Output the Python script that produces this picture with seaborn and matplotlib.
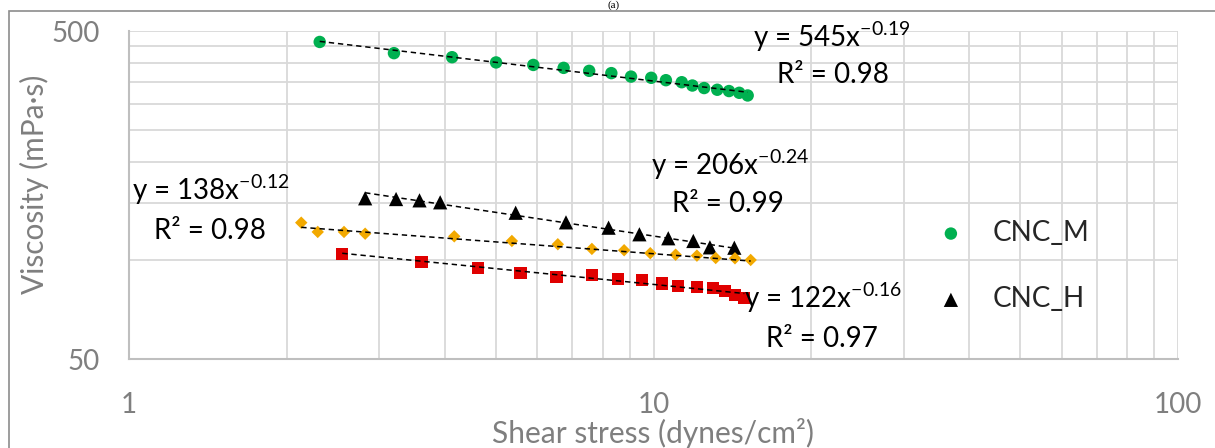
import numpy as np
import pandas as pd
import seaborn as sns
import matplotlib
matplotlib.use("Agg")
import matplotlib.pyplot as plt
from matplotlib.ticker import FixedLocator, NullFormatter, LogLocator
from matplotlib.patches import Rectangle

# ---------------- data ----------------
m_x = [2.31, 3.20, 4.13, 5.01, 5.90, 6.74, 7.54, 8.31, 9.06, 9.90,
       10.56, 11.32, 11.86, 12.49, 13.23, 13.93, 14.57, 15.12]
m_y = [463, 428, 416, 401, 394, 386, 378, 372, 363, 360,
       354, 349, 341, 335, 331, 328, 324, 318]

h_x = [2.82, 3.23, 3.58, 3.92, 5.46, 6.81, 8.21, 9.40, 10.67, 11.91, 12.81, 14.26]
h_y = [154.5, 153.7, 152.3, 150.2, 139.6, 130.5, 125.7, 120.0, 116.7, 114.5, 109.5, 109.2]

o_x = [2.13, 2.29, 2.57, 2.82, 4.17, 5.37, 6.57, 7.63, 8.79, 9.86,
       11.02, 12.10, 13.14, 14.30, 15.32]
o_y = [130.2, 122.0, 122.0, 120.5, 118.3, 114.5, 111.9, 108.3, 107.3, 105.1,
       104.0, 103.3, 101.6, 101.4, 100.2]

r_x = [2.55, 3.61, 4.63, 5.58, 6.53, 7.64, 8.56, 9.52, 10.37, 11.15,
       12.10, 13.00, 13.69, 14.30, 14.90]
r_y = [104.5, 98.6, 94.9, 91.3, 89.1, 90.0, 87.7, 86.9, 84.9, 83.3,
       82.9, 82.1, 80.6, 78.4, 76.6]

# power-law fits y = a * x^b shown on the chart
fit_a = [545, 206, 138, 122]
fit_b = [-0.19, -0.24, -0.12, -0.16]
fit_r2 = ["0.98", "0.99", "0.98", "0.97"]

legend_names = ["CNC_M", "CNC_H"]
x_ticks = [1, 10, 100]
y_ticks = [50, 500]
y_minor = [100, 150, 200, 250, 300, 350, 400, 450]

# ---------------- figure ----------------
W, H = 1215, 448
sns.set_theme(style="white")
plt.rcParams["font.family"] = ["Lato", "DejaVu Sans"]
plt.rcParams["mathtext.fontset"] = "custom"
plt.rcParams["mathtext.rm"] = "Lato"

fig = plt.figure(figsize=(W / 100, H / 100), dpi=100)
fig.patch.set_facecolor("white")


def fx(px):
    return px / W


def fy(py):
    return 1 - py / H


ax = fig.add_axes([fx(129), fy(359), fx(1178) - fx(129), fy(31) - fy(359)])
ax.set_xscale("log")
ax.set_yscale("log")

series = [
    (m_x, m_y, "o", "#00B050", 80, legend_names[0]),
    (h_x, h_y, "^", "#000000", 105, legend_names[1]),
    (o_x, o_y, "D", "#F2A900", 40, None),
    (r_x, r_y, "s", "#E00000", 78, None),
]

for i, (xs, ys, mk, col, sz, name) in enumerate(series):
    df = pd.DataFrame({"x": xs, "y": ys})
    kw = dict(label=name) if name else {}
    sns.scatterplot(data=df, x="x", y="y", marker=mk, color=col, s=sz,
                    edgecolor="none", linewidth=0, ax=ax, zorder=3, **kw)
    tx = np.geomspace(min(xs), max(xs), 60)
    ty = fit_a[i] * tx ** fit_b[i]
    sns.lineplot(x=tx, y=ty, ax=ax, color="black", lw=1.1,
                 dashes=False, zorder=4, estimator=None, sort=False)
    ax.lines[-1].set_dashes((3.5, 2.5))

ax.set_xlim(1, 100)
ax.set_ylim(50, 500)

ax.xaxis.set_major_locator(FixedLocator(x_ticks))
ax.set_xticklabels([str(t) for t in x_ticks])
ax.xaxis.set_minor_locator(LogLocator(base=10, subs=np.arange(2, 10)))
ax.xaxis.set_minor_formatter(NullFormatter())
ax.yaxis.set_major_locator(FixedLocator(y_ticks))
ax.set_yticklabels([str(t) for t in y_ticks])
ax.yaxis.set_minor_locator(FixedLocator(y_minor))
ax.yaxis.set_minor_formatter(NullFormatter())

ax.grid(True, which="both", color="#d9d9d9", lw=1.3)
ax.set_axisbelow(True)
ax.tick_params(which="both", length=0)
ax.tick_params(axis="x", pad=24, labelsize=20, labelcolor="#7f7f7f")
ax.tick_params(axis="y", pad=21, labelsize=20, labelcolor="#7f7f7f")
for s in ["top", "right"]:
    ax.spines[s].set_visible(False)
for s in ["left", "bottom"]:
    ax.spines[s].set_color("#bfbfbf")
    ax.spines[s].set_linewidth(1.5)

ax.set_xlabel("Shear stress (dynes/cm²)", fontsize=21.5, color="#7f7f7f", labelpad=0)
ax.set_ylabel("")
fig.text(fx(34), fy(184), "Viscosity (mPa·s)", rotation=90, ha="center",
         va="center", fontsize=21.5, color="#7f7f7f")

# equation labels
eq_pos = [((832, 47), (833, 83)),
          ((730, 175), (728, 212)),
          ((211, 200), (210, 239)),
          ((823, 308), (822, 347))]
for i, ((x1, y1), (x2, y2)) in enumerate(eq_pos):
    exp = f"{fit_b[i]:.2f}".replace("-", "\u2212")
    fig.text(fx(x1), fy(y1), f"y = {fit_a[i]}x" + r"$^{\mathregular{" + exp + "}}$",
             ha="center", va="baseline", fontsize=20, color="black")
    fig.text(fx(x2), fy(y2), f"R² = {fit_r2[i]}", ha="center", va="baseline",
             fontsize=20, color="black")

# legend (only two entries visible)
handles, labels = ax.get_legend_handles_labels()
keep = [(h, l) for h, l in zip(handles, labels) if l in legend_names]
ax.legend([k[0] for k in keep], [k[1] for k in keep], loc="center left",
          bbox_to_anchor=(fx(937), fy(266)), bbox_transform=fig.transFigure,
          frameon=False, fontsize=20, handlelength=1.0, handletextpad=1.0,
          labelspacing=1.45, borderpad=0, borderaxespad=0)

# panel title (squeezed above the chart frame) and chart frame
fig.text(fx(614), fy(0.5), "(a)", ha="center", va="top", fontsize=8,
         family="Liberation Serif", color="black")
fig.add_artist(Rectangle((fx(9), fy(460)), fx(1300), fy(11) - fy(460),
                         transform=fig.transFigure, fill=False,
                         edgecolor="#8c8c8c", lw=1.2))

fig.savefig("out.png", dpi=100, facecolor="white")
